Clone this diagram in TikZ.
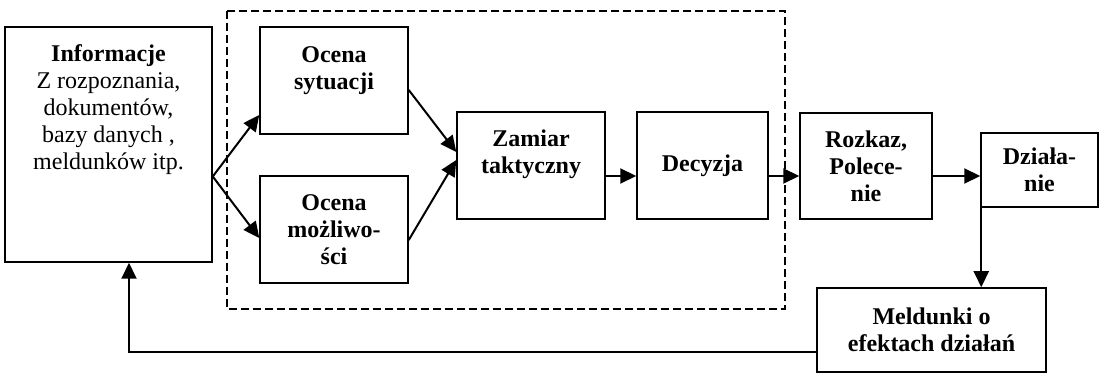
\documentclass[tikz,border=0pt]{standalone}
\usepackage{fontspec}
\setmainfont{Liberation Serif}
\usetikzlibrary{arrows.meta, positioning}

\tikzstyle{box} = [draw, line width=0.75pt, align=center, inner sep=0pt, font=\fontsize{12}{13.5}\selectfont\bfseries]
\tikzstyle{txt} = [align=center, inner sep=0pt, font=\fontsize{12}{13.5}\selectfont]
\tikzstyle{arr} = [line width=1pt, -{Triangle[length=8pt, width=7.5pt]}]
\tikzstyle{grp} = [line width=0.75pt, dash pattern=on 4pt off 2pt]

\begin{document}
\begin{tikzpicture}[x=0.5pt, y=-0.5pt]
\useasboundingbox (0,0) rectangle (1101,373);
\draw[grp] (227,11) rectangle (785,309);

% boxes
\node[box, minimum width=103.5pt, minimum height=117.5pt] (info) at (108.5,144.5) {};
\node[txt, below=9pt of info.north] (infotxt)
    {{\bfseries Informacje}\\Z rozpoznania,\\dokumentów,\\bazy danych ,\\meldunków itp.};
\node[box, minimum width=74pt, minimum height=53.5pt] (sit) at (334,80.5) {};
\node[txt, font=\fontsize{12}{13.5}\selectfont\bfseries, below=10pt of sit.north] (sittxt)
    {Ocena\\sytuacji};
\node[box, minimum width=74pt, minimum height=53.5pt] (moz) at (334,229.5)
    {Ocena\\możliwo-\\ści};
\node[box, minimum width=74pt, minimum height=53.5pt] (zam) at (531,165.5) {};
\node[txt, font=\fontsize{12}{13.5}\selectfont\bfseries, below=9pt of zam.north] (zamtxt)
    {Zamiar\\taktyczny};
\node[box, minimum width=65.5pt, minimum height=53.5pt] (dec) at (702.5,165.5) {Decyzja};
\node[box, minimum width=66pt, minimum height=53pt] (roz) at (866,166)
    {Rozkaz,\\Polece-\\nie};
\node[box, minimum width=58.5pt, minimum height=37pt] (dz) at (1039.5,170)
    {Działa-\\nie};
\node[box, minimum width=114.5pt, minimum height=42pt] (mel) at (931.5,330)
    {Meldunki o\\efektach działań};

% connectors
\draw[arr] ([yshift=-16pt]info.east) -- ([yshift=-17.25pt]sit.west);
\draw[arr] ([yshift=-16pt]info.east) -- ([yshift=-4.25pt]moz.west);
\draw[arr] ([yshift=-4.75pt]sit.east) -- ([yshift=6.75pt]zam.west);
\draw[arr] ([yshift=-5.25pt]moz.east) -- ([yshift=2.75pt]zam.west);
\draw[arr] ([yshift=-5.25pt]zam.east) -- ([yshift=-5.25pt]dec.west);
\draw[arr] ([yshift=-5.25pt]dec.east) -- ([yshift=-5pt]roz.west);
\draw[arr] ([yshift=-5pt]roz.east) -- ([yshift=-3pt]dz.west);
\coordinate (dzout) at ([xshift=0.5pt]dz.south west);
\draw[arr] (dzout) -- (dzout |- mel.north);
\draw[arr] ([yshift=-11pt]mel.west) -| ([xshift=10.25pt]info.south);
\end{tikzpicture}
\end{document}
